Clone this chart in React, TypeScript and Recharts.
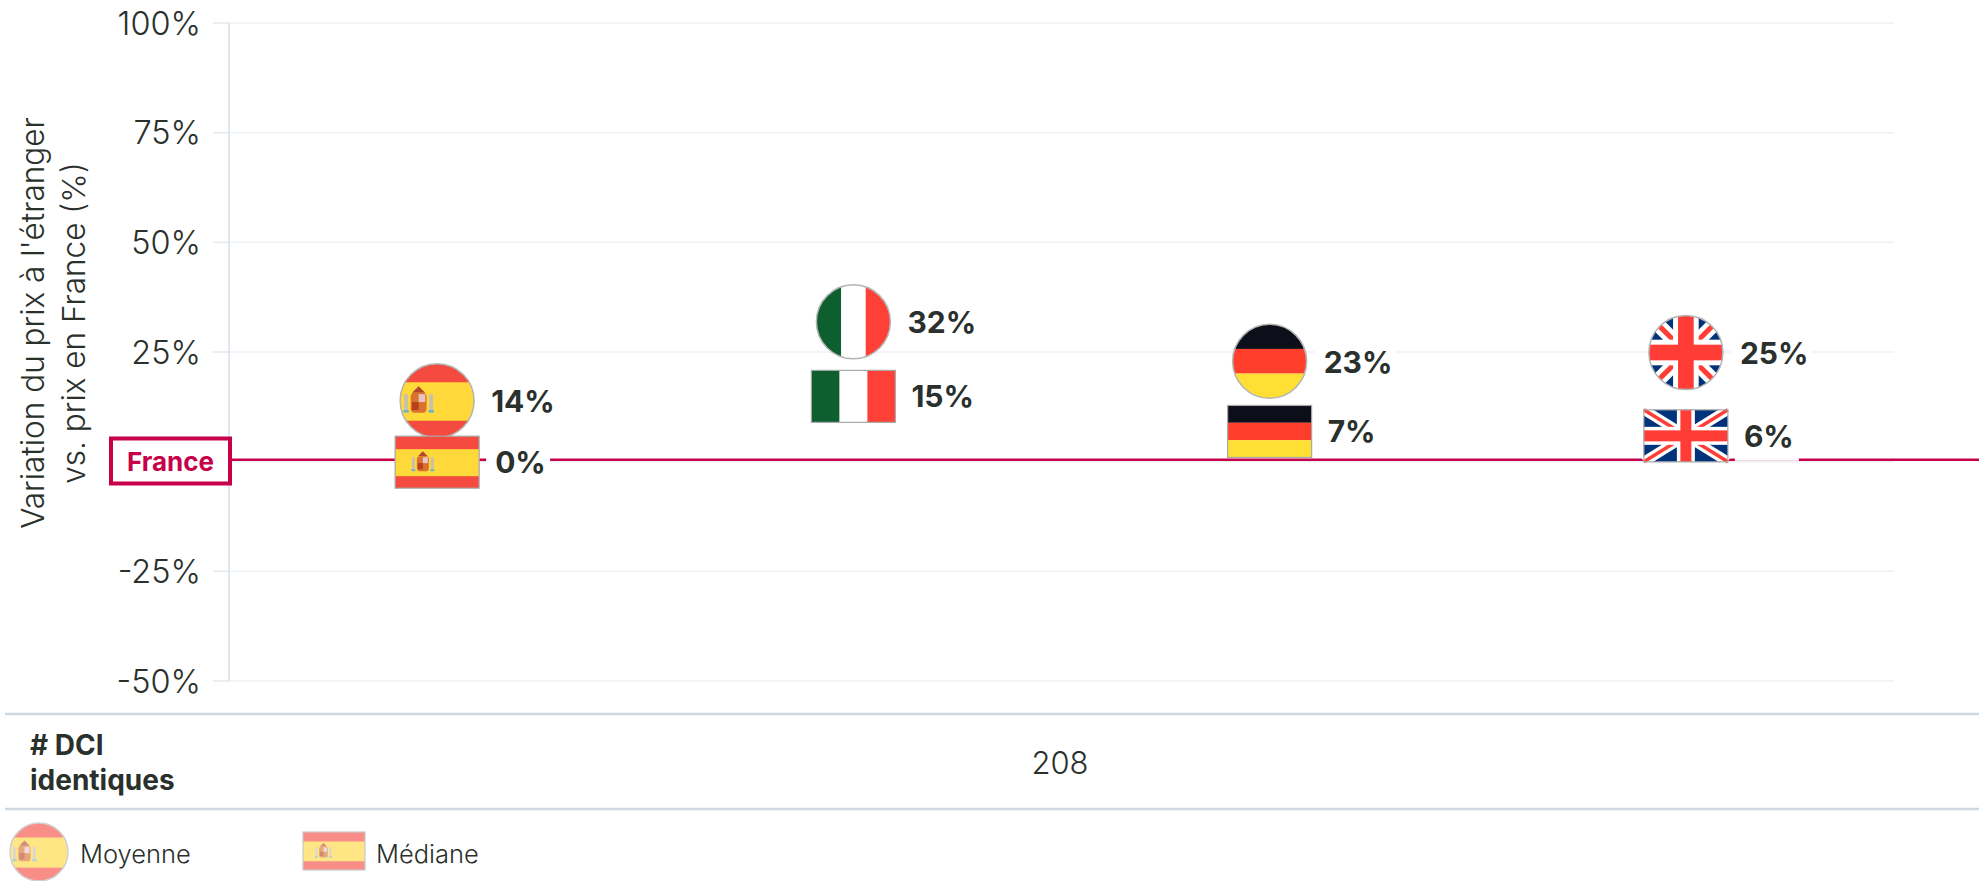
import React from "react";
import { ComposedChart, Line, XAxis, YAxis, CartesianGrid, ReferenceLine } from "recharts";

const countries = ["es", "it", "de", "uk"];
const meanValues = [14, 32, 23, 25];
const medianValues = [0, 15, 7, 6];
const yTicks = [-50, -25, 0, 25, 50, 75, 100];
const axisTitleLines = ["Variation du prix à l'étranger", "vs. prix en France (%)"];
const rowTitleLines = ["# DCI", "identiques"];
const rowValue = "208";
const legendMean = "Moyenne";
const legendMedian = "Médiane";
const baselineLabel = "France";

const chartData = countries.map((code, i) => ({ code, mean: meanValues[i], median: medianValues[i] }));

const FONT = "Inter, 'Noto Sans', sans-serif";
const INK = "#2a302c";
const CRIMSON = "#c8004a";

function Arms({ cx, cy, s }: { cx: number; cy: number; s: number }) {
  return (
    <g>
      <rect x={cx - 11 * s} y={cy - 5 * s} width={3 * s} height={12 * s} fill="#c9c0b0" />
      <rect x={cx + 8 * s} y={cy - 5 * s} width={3 * s} height={12 * s} fill="#c9c0b0" />
      <rect x={cx - 11.5 * s} y={cy + 7 * s} width={4 * s} height={2 * s} fill="#6fb3c9" />
      <rect x={cx + 7.5 * s} y={cy + 7 * s} width={4 * s} height={2 * s} fill="#6fb3c9" />
      <path
        d={`M ${cx - 5 * s} ${cy - 6 * s} L ${cx} ${cy - 11 * s} L ${cx + 5 * s} ${cy - 6 * s} Z`}
        fill="#b5472b"
      />
      <rect x={cx - 6 * s} y={cy - 6 * s} width={12 * s} height={15 * s} rx={3 * s} fill="#d9722c" />
      <rect x={cx} y={cy - 5 * s} width={5 * s} height={6 * s} fill="#e8c3c8" />
      <rect x={cx - 5 * s} y={cy + 1 * s} width={5 * s} height={6 * s} fill="#b8401f" />
    </g>
  );
}

function FlagArt({ code, x, y, w, h, armsAt, armsScale }: { code: string; x: number; y: number; w: number; h: number; armsAt: number; armsScale: number }) {
  if (code === "es") {
    return (
      <g>
        <rect x={x} y={y} width={w} height={h} fill="#f44a3f" />
        <rect x={x} y={y + h * 0.25} width={w} height={h * 0.52} fill="#ffd83a" />
        <Arms cx={x + w * armsAt} cy={y + h * 0.5} s={armsScale} />
      </g>
    );
  }
  if (code === "it") {
    return (
      <g>
        <rect x={x} y={y} width={w} height={h} fill="#ffffff" />
        <rect x={x} y={y} width={w / 3} height={h} fill="#0d5f2f" />
        <rect x={x + (2 * w) / 3} y={y} width={w / 3} height={h} fill="#ff4036" />
      </g>
    );
  }
  if (code === "de") {
    return (
      <g>
        <rect x={x} y={y} width={w} height={h / 3} fill="#0c0f1a" />
        <rect x={x} y={y + h / 3} width={w} height={h / 3} fill="#ff3f2c" />
        <rect x={x} y={y + (2 * h) / 3} width={w} height={h / 3} fill="#ffdf33" />
      </g>
    );
  }
  const cx = x + w / 2;
  const cy = y + h / 2;
  const u = h / 52;
  return (
    <g>
      <rect x={x} y={y} width={w} height={h} fill="#00337a" />
      <line x1={x} y1={y} x2={x + w} y2={y + h} stroke="#ffffff" strokeWidth={10 * u} />
      <line x1={x} y1={y + h} x2={x + w} y2={y} stroke="#ffffff" strokeWidth={10 * u} />
      <line x1={x} y1={y} x2={x + w} y2={y + h} stroke="#ff3d36" strokeWidth={3.5 * u} />
      <line x1={x} y1={y + h} x2={x + w} y2={y} stroke="#ff3d36" strokeWidth={3.5 * u} />
      <rect x={cx - 9 * u} y={y} width={18 * u} height={h} fill="#ffffff" />
      <rect x={x} y={cy - 9 * u} width={w} height={18 * u} fill="#ffffff" />
      <rect x={cx - 5.5 * u} y={y} width={11 * u} height={h} fill="#ff3d36" />
      <rect x={x} y={cy - 5.5 * u} width={w} height={11 * u} fill="#ff3d36" />
    </g>
  );
}

function RectFlag({ code, cx, cy, w, h }: { code: string; cx: number; cy: number; w: number; h: number }) {
  const x = cx - w / 2;
  const y = cy - h / 2;
  return (
    <g>
      <FlagArt code={code} x={x} y={y} w={w} h={h} armsAt={0.33} armsScale={h / 52} />
      <rect x={x} y={y} width={w} height={h} fill="none" stroke="#a8a8a8" strokeWidth={1.2} />
    </g>
  );
}

function RoundFlag({ code, cx, cy, r, id }: { code: string; cx: number; cy: number; r: number; id: string }) {
  return (
    <g>
      <clipPath id={id}>
        <circle cx={cx} cy={cy} r={r} />
      </clipPath>
      <g clipPath={`url(#${id})`}>
        <rect x={cx - r} y={cy - r} width={r * 2} height={r * 2} fill="#ffffff" />
        <FlagArt code={code} x={cx - r} y={cy - r} w={r * 2} h={r * 2} armsAt={0.25} armsScale={r / 28} />
      </g>
      <circle cx={cx} cy={cy} r={r} fill="none" stroke="#b5b5b5" strokeWidth={1.5} />
    </g>
  );
}

function ValueLabel({ x, y, value }: { x: number; y: number; value: number }) {
  const text = `${value}%`;
  const w = (text.length - 1) * 18 + 29 + 17;
  return (
    <g>
      <rect x={x - 9} y={y - 25} width={w} height={50} fill="#ffffff" />
      <text x={x} y={y} dominantBaseline="central" fontFamily={FONT} fontWeight={700} fontSize={30} fill={INK}>
        {text}
      </text>
    </g>
  );
}

const MeanDot = (props: any) => {
  const { cx, cy, payload, index } = props;
  return (
    <g key={`mean-${index}`}>
      <ValueLabel x={cx + 54} y={cy + 1} value={payload.mean} />
      <RoundFlag code={payload.code} cx={cx} cy={cy + 0.5} r={37} id={`round-${payload.code}`} />
    </g>
  );
};

const MedianDot = (props: any) => {
  const { cx, cy, payload, index } = props;
  return (
    <g key={`median-${index}`}>
      <ValueLabel x={cx + 58} y={cy + 0.5} value={payload.median} />
      <RectFlag code={payload.code} cx={cx} cy={cy + 0.5} w={84} h={52} />
    </g>
  );
};

const BaselineShape = (props: any) => {
  const y = (props.y1 ?? props.y) - 2;
  return <line x1={231} y1={y} x2={1979} y2={y} stroke={CRIMSON} strokeWidth={2.5} />;
};

const AxisTitle = () => (
  <g>
    {axisTitleLines.map((line, i) => (
      <text
        key={line}
        transform={`translate(${32 + i * 41}, 323) rotate(-90)`}
        textAnchor="middle"
        dominantBaseline="central"
        fontFamily={FONT}
        fontWeight={300}
        fontSize={31.5}
        fill={INK}
      >
        {line}
      </text>
    ))}
  </g>
);

export default function App() {
  return (
    <div style={{ position: "absolute", left: 0, top: 0, width: 1979, height: 881, background: "#fff", overflow: "hidden" }}>
      <ComposedChart
        width={1979}
        height={881}
        data={chartData}
        margin={{ top: 23, right: 85, bottom: 200, left: 0 }}
      >
        <CartesianGrid horizontal vertical={false} stroke="#eef1f4" strokeWidth={1.5} />
        <XAxis dataKey="code" hide scale="band" />
        <YAxis
          type="number"
          domain={[-50, 100]}
          ticks={yTicks}
          width={229}
          interval={0}
          tickFormatter={(v: number) => (v === 0 ? "" : `${v}%`)}
          axisLine={{ stroke: "#d5dee7", strokeWidth: 1.5 }}
          tickLine={{ stroke: "#e3e9ee", strokeWidth: 1.5 }}
          tickSize={16}
          tickMargin={12}
          tick={{ fontFamily: FONT, fontWeight: 300, fontSize: 32.5, fill: INK }}
        />
        <ReferenceLine y={0} shape={BaselineShape} ifOverflow="visible" />
        <Line dataKey="mean" stroke="none" isAnimationActive={false} dot={MeanDot} activeDot={false} />
        <Line dataKey="median" stroke="none" isAnimationActive={false} dot={MedianDot} activeDot={false} />
        <AxisTitle />
      </ComposedChart>
      <svg width={1979} height={881} style={{ position: "absolute", left: 0, top: 0, pointerEvents: "none" }}>
        <rect x={111} y={438.5} width={119} height={45} fill="#ffffff" stroke={CRIMSON} strokeWidth={4} />
        <text
          x={170.5}
          y={461}
          textAnchor="middle"
          dominantBaseline="central"
          fontFamily={FONT}
          fontWeight={700}
          fontSize={26}
          fill={CRIMSON}
        >
          {baselineLabel}
        </text>
        <line x1={5} y1={714} x2={1979} y2={714} stroke="#d0d9e1" strokeWidth={2.5} />
        <line x1={5} y1={809} x2={1979} y2={809} stroke="#d0d9e1" strokeWidth={2.5} />
        {rowTitleLines.map((line, i) => (
          <text key={line} x={30} y={745 + i * 35} dominantBaseline="central" fontFamily={FONT} fontWeight={700} fontSize={28} fill={INK}>
            {line}
          </text>
        ))}
        <text x={1060} y={762} textAnchor="middle" dominantBaseline="central" fontFamily={FONT} fontWeight={300} fontSize={31} fill={INK}>
          {rowValue}
        </text>
        <g opacity={0.62}>
          <RoundFlag code="es" cx={39} cy={852} r={29} id="legend-round" />
          <RectFlag code="es" cx={334} cy={851} w={62} h={38} />
        </g>
        <text x={80} y={853} dominantBaseline="central" fontFamily={FONT} fontWeight={300} fontSize={25.5} fill={INK}>
          {legendMean}
        </text>
        <text x={376} y={853} dominantBaseline="central" fontFamily={FONT} fontWeight={300} fontSize={25.5} fill={INK}>
          {legendMedian}
        </text>
      </svg>
    </div>
  );
}
